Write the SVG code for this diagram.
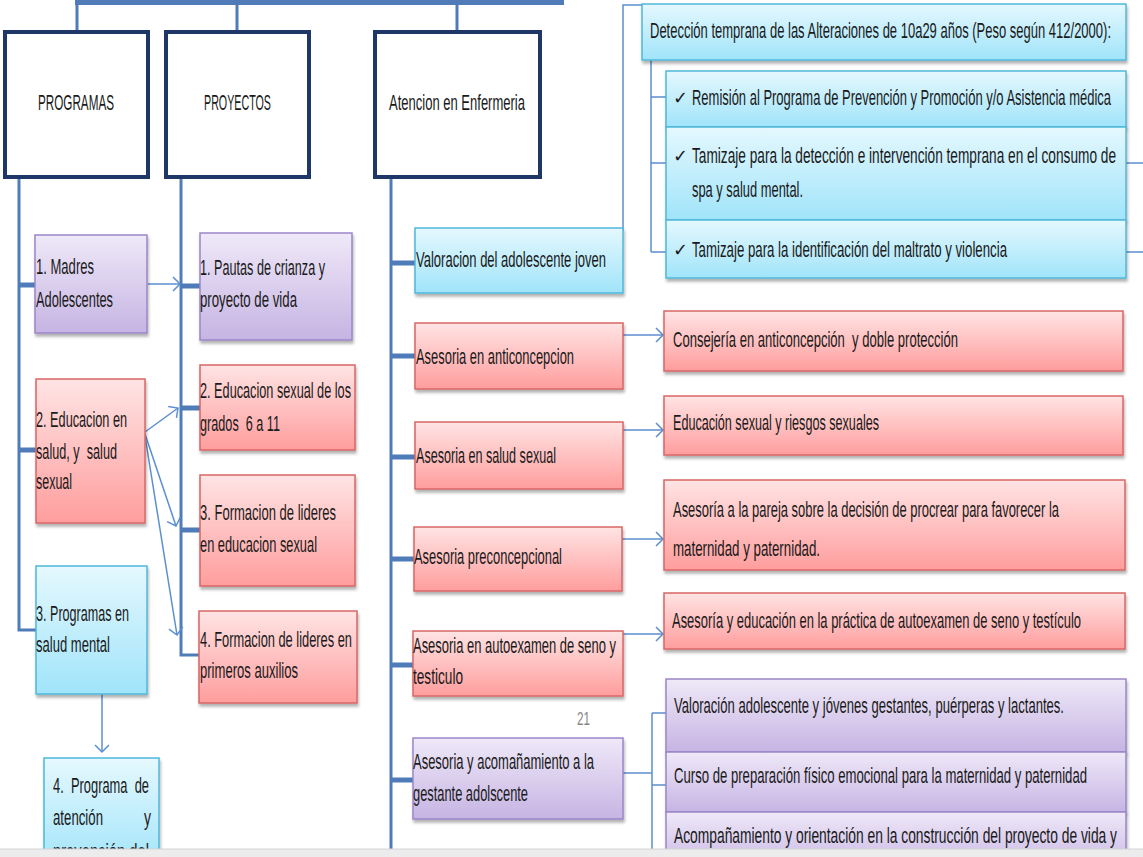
<svg xmlns="http://www.w3.org/2000/svg" width="1143" height="857" viewBox="0 0 1143 857">
<defs>
<linearGradient id="gP" x1="0" y1="0" x2="0" y2="1"><stop offset="0" stop-color="#efe9f8"/><stop offset="1" stop-color="#c6b4e3"/></linearGradient>
<linearGradient id="gR" x1="0" y1="0" x2="0" y2="1"><stop offset="0" stop-color="#ffe4e4"/><stop offset="1" stop-color="#ff9d9d"/></linearGradient>
<linearGradient id="gB" x1="0" y1="0" x2="0" y2="1"><stop offset="0" stop-color="#e5f8fe"/><stop offset="1" stop-color="#a0e4fa"/></linearGradient>
<filter id="sh" x="-5%" y="-10%" width="115%" height="130%"><feDropShadow dx="1" dy="3" stdDeviation="1.5" flood-color="#000" flood-opacity="0.3"/></filter>
<marker id="ar" markerUnits="userSpaceOnUse" markerWidth="10" markerHeight="16" refX="8" refY="8" orient="auto"><path d="M1,1 L8,8 L1,15" fill="none" stroke="#5b8fd0" stroke-width="1.5"/></marker>
<style>
.t{font-family:"Liberation Sans",Arial,sans-serif;font-size:22px;fill:#1a1a1a;white-space:pre}
.h{font-family:"Liberation Sans",Arial,sans-serif;font-size:22px;fill:#1a1a1a;white-space:pre}
.ck{font-family:"DejaVu Sans",sans-serif;font-size:18px;fill:#1a1a1a}
.p{fill:url(#gP);stroke:#9a86c8;stroke-width:1.5;filter:url(#sh)}
.r{fill:url(#gR);stroke:#d96666;stroke-width:1.5;filter:url(#sh)}
.b{fill:url(#gB);stroke:#4fb8da;stroke-width:1.5;filter:url(#sh)}
.hd{fill:#fff;stroke:#1f3767;stroke-width:4}
.tr{fill:none;stroke:#4f7cb8;stroke-width:3}
.st{fill:none;stroke:#4f7cb8;stroke-width:5}
.th{fill:none;stroke:#5b8fd0;stroke-width:1.5}
.a{fill:none;stroke:#5b8fd0;stroke-width:1.5;marker-end:url(#ar)}
</style>
</defs>
<rect width="1143" height="857" fill="#fff"/>

<g id="connectors">
<path class="st" d="M75 2.5 H564"/>
<path class="tr" d="M77 3 V32 M237 3 V32 M457 3 V32"/>
<path class="tr" d="M19 177 V630 H36"/>
<path class="st" d="M19 285 H36 M19 450 H36"/>
<path class="tr" d="M181 177 V655 H200"/>
<path class="st" d="M181 286 H200 M181 408 H200 M181 530 H200"/>
<path class="tr" d="M391 177 V857"/>
<path class="st" d="M391 263 H415 M391 356 H415 M391 457 H415 M391 559 H414 M391 665 H413 M391 780 H413"/>
<path class="a" d="M148 284 H180"/>
<path class="a" d="M145 432 L178 408"/>
<path class="a" d="M145 434 L176 526"/>
<path class="a" d="M145 436 L177 635"/>
<path class="a" d="M102 682 V752"/>
<path class="th" d="M605 230 H623 V5 H642" stroke-width="2"/>
<path class="th" d="M651 60 V252 M651 97 H666 M651 163 H666 M651 252 H666"/>
<path class="th" d="M1126 163 H1143 M1126 252 H1143"/>
<path class="a" d="M619 335 H663"/>
<path class="a" d="M621 430 H663"/>
<path class="a" d="M619 539 H663"/>
<path class="a" d="M622 634 H663"/>
<path class="th" d="M622 738 V773 H652 M652 713 V857 M652 713 H666 M652 785 H666"/>
</g>

<g id="n-programas"><rect class="hd" x="5" y="32" width="143" height="145"/><text class="h" x="38" y="110" textLength="76" lengthAdjust="spacingAndGlyphs">PROGRAMAS</text></g>
<g id="n-proyectos"><rect class="hd" x="166" y="32" width="143" height="145"/><text class="h" x="204" y="110" textLength="67" lengthAdjust="spacingAndGlyphs">PROYECTOS</text></g>
<g id="n-atencion"><rect class="hd" x="375" y="32" width="165" height="145"/><text class="h" x="389" y="110" textLength="136" lengthAdjust="spacingAndGlyphs">Atencion en Enfermeria</text></g>

<g id="n-madres"><rect class="p" x="35" y="235" width="112" height="98"/><text class="t" x="36" y="274" textLength="58" lengthAdjust="spacingAndGlyphs">1. Madres</text><text class="t" x="36" y="307" textLength="77" lengthAdjust="spacingAndGlyphs">Adolescentes</text></g>
<g id="n-educacion-salud"><rect class="r" x="36" y="379" width="109" height="144"/><text class="t" x="36" y="427" textLength="91" lengthAdjust="spacingAndGlyphs">2. Educacion en</text><text class="t" x="36" y="459" textLength="81" lengthAdjust="spacingAndGlyphs">salud, y  salud</text><text class="t" x="36" y="489" textLength="36" lengthAdjust="spacingAndGlyphs">sexual</text></g>
<g id="n-salud-mental"><rect class="b" x="36" y="566" width="111" height="128"/><text class="t" x="36" y="621" textLength="93" lengthAdjust="spacingAndGlyphs">3. Programas en</text><text class="t" x="36" y="652" textLength="74" lengthAdjust="spacingAndGlyphs">salud mental</text></g>
<g id="n-programa-atencion"><rect class="b" x="44" y="758" width="115" height="112"/><text class="t" x="53" y="793" textLength="96" lengthAdjust="spacingAndGlyphs">4.  Programa  de</text><text class="t" x="53" y="825" textLength="50" lengthAdjust="spacingAndGlyphs">atención</text><text class="t" x="144" y="825" textLength="7" lengthAdjust="spacingAndGlyphs">y</text><text class="t" x="53" y="859" textLength="96" lengthAdjust="spacingAndGlyphs">prevención del</text></g>

<g id="n-pautas"><rect class="p" x="200" y="233" width="152" height="107"/><text class="t" x="200" y="275" textLength="125" lengthAdjust="spacingAndGlyphs">1. Pautas de crianza y</text><text class="t" x="200" y="307" textLength="97" lengthAdjust="spacingAndGlyphs">proyecto de vida</text></g>
<g id="n-educacion-sexual"><rect class="r" x="200" y="365" width="155" height="85"/><text class="t" x="200" y="398" textLength="151" lengthAdjust="spacingAndGlyphs">2. Educacion sexual de los</text><text class="t" x="200" y="431" textLength="80" lengthAdjust="spacingAndGlyphs">grados  6 a 11</text></g>
<g id="n-lideres-sexual"><rect class="r" x="200" y="475" width="155" height="111"/><text class="t" x="200" y="520" textLength="136" lengthAdjust="spacingAndGlyphs">3. Formacion de lideres</text><text class="t" x="200" y="552" textLength="117" lengthAdjust="spacingAndGlyphs">en educacion sexual</text></g>
<g id="n-lideres-auxilios"><rect class="r" x="199" y="611" width="158" height="92"/><text class="t" x="200" y="647" textLength="152" lengthAdjust="spacingAndGlyphs">4. Formacion de lideres en</text><text class="t" x="200" y="678" textLength="98" lengthAdjust="spacingAndGlyphs">primeros auxilios</text></g>

<g id="n-valoracion"><rect class="b" x="415" y="228" width="208" height="65"/><text class="t" x="416" y="267" textLength="190" lengthAdjust="spacingAndGlyphs">Valoracion del adolescente joven</text></g>
<g id="n-anticoncepcion"><rect class="r" x="415" y="323" width="208" height="66"/><text class="t" x="416" y="364" textLength="158" lengthAdjust="spacingAndGlyphs">Asesoria en anticoncepcion</text></g>
<g id="n-salud-sexual"><rect class="r" x="415" y="422" width="208" height="67"/><text class="t" x="416" y="463" textLength="140" lengthAdjust="spacingAndGlyphs">Asesoria en salud sexual</text></g>
<g id="n-preconcepcional"><rect class="r" x="414" y="527" width="208" height="64"/><text class="t" x="414" y="564" textLength="148" lengthAdjust="spacingAndGlyphs">Asesoria preconcepcional</text></g>
<g id="n-autoexamen"><rect class="r" x="413" y="631" width="210" height="65"/><text class="t" x="413" y="653" textLength="203" lengthAdjust="spacingAndGlyphs">Asesoria en autoexamen de seno y</text><text class="t" x="413" y="684" textLength="50" lengthAdjust="spacingAndGlyphs">testiculo</text></g>
<g id="n-gestante"><rect class="p" x="413" y="738" width="210" height="81"/><text class="t" x="413" y="769" textLength="181" lengthAdjust="spacingAndGlyphs">Asesoria y acomañamiento a la</text><text class="t" x="413" y="801" textLength="115" lengthAdjust="spacingAndGlyphs">gestante adolscente</text></g>

<text x="577" y="725" font-family="Liberation Sans, Arial, sans-serif" font-size="18" fill="#888" textLength="13" lengthAdjust="spacingAndGlyphs">21</text>

<g id="n-deteccion"><rect class="b" x="642" y="4" width="484" height="56"/><text class="t" x="650" y="38" textLength="461" lengthAdjust="spacingAndGlyphs">Detección temprana de las Alteraciones de 10a29 años (Peso según 412/2000):</text></g>
<g id="n-remision"><rect class="b" x="666" y="71" width="460" height="56"/><text class="ck" x="673" y="104">✓</text><text class="t" x="692" y="105" textLength="419" lengthAdjust="spacingAndGlyphs">Remisión al Programa de Prevención y Promoción y/o Asistencia médica</text></g>
<g id="n-tamizaje-spa"><rect class="b" x="666" y="127" width="460" height="93"/><text class="ck" x="673" y="162">✓</text><text class="t" x="692" y="163" textLength="424" lengthAdjust="spacingAndGlyphs">Tamizaje para la detección e intervención temprana en el consumo de</text><text class="t" x="692" y="197" textLength="111" lengthAdjust="spacingAndGlyphs">spa y salud mental.</text></g>
<g id="n-tamizaje-maltrato"><rect class="b" x="666" y="220" width="460" height="58"/><text class="ck" x="673" y="256">✓</text><text class="t" x="692" y="257" textLength="315" lengthAdjust="spacingAndGlyphs">Tamizaje para la identificación del maltrato y violencia</text></g>

<g id="n-consejeria"><rect class="r" x="664" y="311" width="459" height="60"/><text class="t" x="673" y="347" textLength="285" lengthAdjust="spacingAndGlyphs">Consejería en anticoncepción  y doble protección</text></g>
<g id="n-educacion-riesgos"><rect class="r" x="664" y="396" width="459" height="59"/><text class="t" x="673" y="430" textLength="206" lengthAdjust="spacingAndGlyphs">Educación sexual y riesgos sexuales</text></g>
<g id="n-pareja"><rect class="r" x="664" y="480" width="461" height="90"/><text class="t" x="673" y="517" textLength="386" lengthAdjust="spacingAndGlyphs">Asesoría a la pareja sobre la decisión de procrear para favorecer la</text><text class="t" x="673" y="556" textLength="147" lengthAdjust="spacingAndGlyphs">maternidad y paternidad.</text></g>
<g id="n-autoexamen-ed"><rect class="r" x="664" y="593" width="461" height="56"/><text class="t" x="672" y="628" textLength="409" lengthAdjust="spacingAndGlyphs">Asesoría y educación en la práctica de autoexamen de seno y testículo</text></g>

<g id="n-valoracion-gestantes"><rect class="p" x="666" y="679" width="460" height="73"/><text class="t" x="674" y="713" textLength="390" lengthAdjust="spacingAndGlyphs">Valoración adolescente y jóvenes gestantes, puérperas y lactantes.</text></g>
<g id="n-curso"><rect class="p" x="666" y="752" width="460" height="60"/><text class="t" x="674" y="783" textLength="413" lengthAdjust="spacingAndGlyphs">Curso de preparación físico emocional para la maternidad y paternidad</text></g>
<g id="n-acompanamiento"><rect class="p" x="666" y="812" width="460" height="60"/><text class="t" x="674" y="843" textLength="443" lengthAdjust="spacingAndGlyphs">Acompañamiento y orientación en la construcción del proyecto de vida y</text></g>

<rect x="0" y="849" width="1143" height="8" fill="#ececec"/>
<line x1="0" y1="849" x2="1143" y2="849" stroke="#d4d4d4" stroke-width="1"/>
</svg>
